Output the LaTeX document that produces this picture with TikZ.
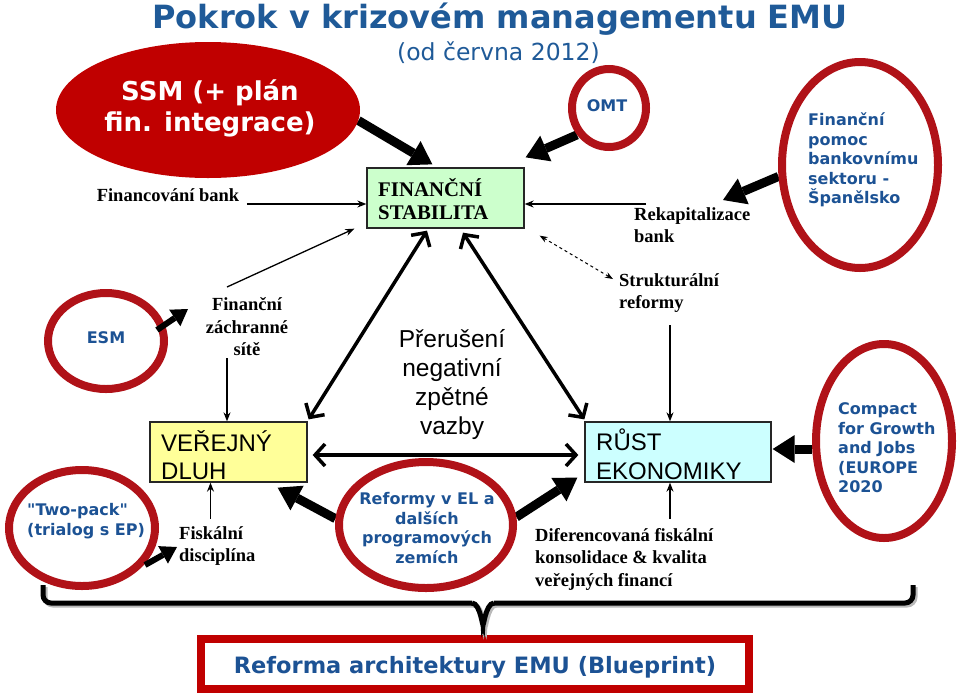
\documentclass[tikz,border=0pt]{standalone}
\usepackage{fontspec}
\setmainfont{Liberation Serif}
\setsansfont{Liberation Sans}
\newfontfamily\verd{DejaVu Sans}
\usetikzlibrary{shapes.geometric,arrows.meta,calc}
\pgfdeclarelayer{bg}
\pgfsetlayers{bg,main}
\definecolor{tblue}{RGB}{31,90,152}
\definecolor{eblue}{RGB}{28,82,148}
\definecolor{ring}{RGB}{176,18,24}
\definecolor{ssmred}{RGB}{192,0,0}
\definecolor{gfill}{RGB}{204,255,204}
\definecolor{yfill}{RGB}{255,255,153}
\definecolor{cfill}{RGB}{204,255,255}
\begin{document}
\begin{tikzpicture}[x=1pt,y=-1pt,
  ringe/.style={ellipse,draw=ring,line width=8pt,inner sep=0pt},
  etext/.style={text=eblue,font=\verd\bfseries\fontsize{16}{19.5}\selectfont,align=left,inner sep=0pt},
  anno/.style={font=\bfseries\fontsize{18.5}{22.5}\selectfont,align=left,inner sep=0pt},
  boxt/.style={font=\sffamily\fontsize{24}{28.5}\selectfont,align=left,inner sep=0pt},
  boxr/.style={draw=black!85,line width=1.3pt,inner sep=0pt},
  bigarr/.style={line width=9pt,-{Triangle[length=22pt,width=28pt,line width=0pt]}},
  smarr/.style={line width=6pt,-{Triangle[length=16pt,width=20pt,line width=0pt]}},
  thinarr/.style={line width=1.3pt,-{Stealth[length=9pt,width=7pt]}},
  dasharr/.style={line width=1pt,dashed,{Stealth[length=8pt,width=6pt]}-{Stealth[length=8pt,width=6pt]}},
  dblarr/.style={line width=3.5pt,{Straight Barb[length=10pt,width=22pt]}-{Straight Barb[length=10pt,width=22pt]}},
  brace/.style={line width=5pt,rounded corners=8pt},
]
\useasboundingbox (0,0) rectangle (960,697);

% title
\node[font=\verd\bfseries\fontsize{32}{36}\selectfont,text=tblue,inner sep=0pt] (title) at (500,19.5) {Pokrok v krizovém managementu EMU};
\node[font=\verd\fontsize{23.5}{28}\selectfont,text=tblue,inner sep=0pt] (sub) at (498.5,53) {(od června 2012)};

% SSM
\node[ellipse,fill=ssmred,minimum width=304,minimum height=136] (ssm) at (208,110) {};
\node[text=white,font=\verd\bfseries\fontsize{26}{31}\selectfont,align=center,inner sep=0pt] (ssmt) at (210,108) {SSM (+ plán\\fin. integrace)};

% financni stabilita
\node[boxr,fill=gfill,minimum width=157,minimum height=60] (fs) at (445.5,198) {};
\node[font=\bfseries\fontsize{20.8}{23.5}\selectfont,align=left,inner sep=0pt,anchor=west] (fst) at (378,199) {FINANČNÍ\\STABILITA};

% OMT
\node[ringe,minimum width=74,minimum height=78] (omt) at (609,108) {};
\node[etext] (omtt) at (607,106) {OMT};

% Spain
\node[ringe,minimum width=156,minimum height=206] (spain) at (860,165) {};
\node[etext,anchor=west] (spaint) at (808,160) {Finanční\\pomoc\\bankovnímu\\sektoru -\\Španělsko};

\node[anno] (finb) at (168,195) {Financování bank};
\node[anno,anchor=west] (rekap) at (634,225) {Rekapitalizace\\bank};

% ESM
\node[ringe,minimum width=116,minimum height=96] (esm) at (106,341) {};
\node[etext] (esmt) at (106,338) {ESM};

\node[anno,align=center] (fzs) at (247,327) {Finanční\\záchranné\\sítě};

% verejny dluh
\node[boxr,fill=yfill,minimum width=157,minimum height=60] (vd) at (228.5,452) {};
\node[boxt,anchor=west] (vdt) at (161,455) {VEŘEJNÝ\\DLUH};

% two-pack
\node[ringe,minimum width=146,minimum height=116] (two) at (82,528) {};
\node[etext,anchor=west] (twot) at (27,521) {"Two-pack"\\(trialog s EP)};

\node[anno,anchor=west] (fisk) at (179,546) {Fiskální\\disciplína};

\node[font=\sffamily\fontsize{24.5}{29}\selectfont,align=center,inner sep=0pt] (prer) at (452,385) {Přerušení\\negativní\\zpětné\\vazby};

% Reformy
\node[ringe,minimum width=174,minimum height=126] (ref) at (426,525) {};
\node[etext,align=center] (reft) at (427,528) {Reformy v EL a\\dalších\\programových\\zemích};

\node[anno,anchor=west] (strukt) at (619,293) {Strukturální\\reformy};

% rust
\node[boxr,fill=cfill,minimum width=186,minimum height=60] (rust) at (678,452) {};
\node[boxt,anchor=west] (rustt) at (596,454) {RŮST\\EKONOMIKY};

\node[anno,anchor=west] (difer) at (535,559) {Diferencovaná fiskální\\konsolidace \& kvalita\\veřejných financí};

% compact
\node[ringe,minimum width=136,minimum height=194] (comp) at (884,441) {};
\node[etext,anchor=west] (compt) at (838,448) {Compact\\for Growth\\and Jobs\\(EUROPE\\2020};

% blueprint
\node[draw=ssmred,line width=8pt,minimum width=548,minimum height=50,inner sep=0pt] (bp) at (475,664) {};
\node[text=eblue,font=\verd\bfseries\fontsize{22.5}{26}\selectfont,inner sep=0pt] (bpt) at (475,667) {Reforma architektury EMU (Blueprint)};

% brace (shadow + line)
\draw[brace,gray!55] (45,587) -- (45,605) -- (474,605);
\draw[line width=5pt,gray!55] (474,605) to[out=0,in=-90] (485,625) to[out=-90,in=180] (496,605);
\draw[brace,gray!55] (496,605) -- (915,605) -- (915,587);
\draw[brace] (43,585) -- (43,603) -- (472,603);
\draw[line width=5pt] (472,603) to[out=0,in=-90] (483,623) to[out=-90,in=180] (494,603);
\draw[brace] (494,603) -- (913,603) -- (913,585);

% connectors
\coordinate (spT) at (723,200);
\coordinate (rkA) at (646,204);
\coordinate (fzA) at (227,287);
\coordinate (dsB) at (613,279);
\begin{pgfonlayer}{bg}
\draw[bigarr] (ssm.-4) -- ($(fs.north west)+(66,-3)$);
\draw[bigarr] (omt.220) -- ($(fs.north east)+(1,-10)$);
\draw[bigarr] (spain.188) -- (spT);
\draw[bigarr] (ref.176) -- ($(vd.south east)+(-30,5)$);
\draw[bigarr] (ref.5) -- ($(rust.south west)+(-7,-5)$);
\draw[bigarr] ($(comp.west)+(0,8)$) -- ($(rust.east)+(1,-3)$);
\end{pgfonlayer}
\draw[smarr] ($(esm.center)+(51,-11)$) -- ($(esm.center)+(82,-32)$);
\draw[smarr] ($(two.center)+(63,37)$) -- ($(two.center)+(95,19)$);

\draw[thinarr] ($(finb.east)+(7.5,9)$) -- ($(fs.west)+(0,6)$);
\draw[thinarr] (rkA) -- ($(fs.east)+(0,6)$);
\draw[thinarr] (fzA) -- ($(fs.south west)+(-12,0)$);
\draw[dasharr] ($(fs.south east)+(15,7)$) -- (dsB);

\draw[thinarr] ($(vd.north)+(-1.5,-63)$) -- ($(vd.north)+(-1.5,0)$);
\draw[thinarr] ($(vd.south)+(-18,36)$) -- ($(vd.south)+(-18,0)$);
\draw[thinarr] ($(rust.north)+(-8,-96)$) -- ($(rust.north)+(-8,0)$);
\draw[thinarr] ($(rust.south)+(-8,36)$) -- ($(rust.south)+(-8,0)$);

\draw[dblarr] ($(fs.south)+(-18.5,2)$) -- ($(vd.north east)+(1,-2)$);
\draw[dblarr] ($(fs.south)+(17.5,4)$) -- ($(rust.north west)+(0,-2)$);
\draw[dblarr] ($(vd.east)+(5,3)$) -- ($(rust.west)+(-6,3)$);
\end{tikzpicture}
\end{document}
